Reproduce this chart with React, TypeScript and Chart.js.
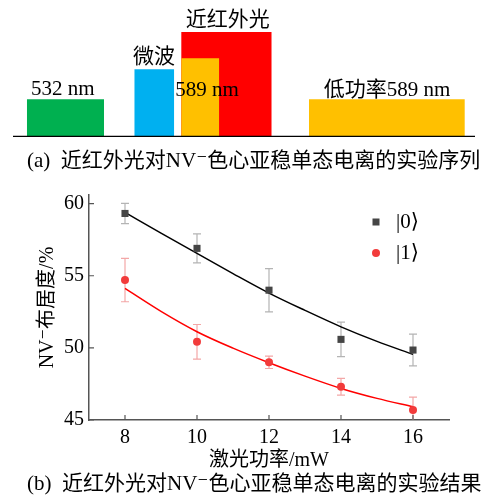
import React, { useEffect, useRef } from 'react';
import { Chart, registerables } from 'chart.js';

Chart.register(...registerables);

const FONT = '"Liberation Serif", "Noto Sans CJK SC", "DejaVu Serif", serif';

// ---------- (a) experimental sequence ----------
const pulseNames = ['532 nm', '微波', '近红外光', '589 nm', '低功率589 nm'];
const pulseStart = [3.0, 26.25, 36.4, 36.4, 64.07];
const pulseEnd = [19.7, 34.9, 56.0, 44.65, 97.8];
const pulseHeight = [0.36, 0.645, 1.0, 0.75, 0.36];
const pulseColors = ['#00b050', '#00b0f0', '#ff0000', '#ffc000', '#ffc000'];
const pulseLabelX = [10.8, 30.5, 46.5, 42.0, 80.95];
const pulseLabelY = [0.4, 0.705, 1.055, 0.39, 0.39];
const captionA = '(a)  近红外光对NV⁻色心亚稳单态电离的实验序列';

// ---------- (b) results ----------
const powerX = [8, 10, 12, 14, 16];
const state0 = [59.32, 56.9, 54.0, 50.59, 49.85];
const state0Err = [0.7, 1.0, 1.5, 1.2, 1.1];
const state1 = [54.7, 50.42, 49.0, 47.3, 45.69];
const state1Err = [1.5, 1.2, 0.43, 0.58, 0.9];
const fitX = [8, 9, 10, 11, 12, 13, 14, 15, 16];
const fit0 = [59.4, 57.95, 56.55, 55.15, 53.8, 52.6, 51.46, 50.45, 49.55];
const fit1 = [54.12, 52.53, 51.12, 49.98, 48.97, 48.04, 47.19, 46.5, 45.92];
const xTicks = [8, 10, 12, 14, 16];
const yTicks = [45, 50, 55, 60];
const legendLabels = ['|0⟩', '|1⟩'];
const xTitle = '激光功率/mW';
const yTitle = 'NV⁻布居度/%';
const captionB = '(b)  近红外光对NV⁻色心亚稳单态电离的实验结果';

const AXIS_COLOR = '#555555';

function SequenceChart() {
  const ref = useRef<HTMLCanvasElement>(null);
  useEffect(() => {
    const datasets: any[] = pulseNames.map((n, i) => ({
      label: n,
      data: [
        { x: pulseStart[i], y: 0 },
        { x: pulseStart[i], y: pulseHeight[i] },
        { x: pulseEnd[i], y: pulseHeight[i] },
        { x: pulseEnd[i], y: 0 },
      ],
      borderWidth: 0,
      borderColor: pulseColors[i],
      backgroundColor: pulseColors[i],
      fill: 'origin',
      pointRadius: 0,
      tension: 0,
      order: i === 2 ? 5 : 2,
    }));
    datasets.push({
      label: 'baseline',
      data: [{ x: 0, y: 0 }, { x: 100, y: 0 }],
      borderColor: '#000',
      borderWidth: 2.5,
      pointRadius: 0,
      fill: false,
      order: 0,
    });
    const labelPlugin = {
      id: 'pulseLabels',
      afterDraw(chart: any) {
        const { ctx, scales } = chart;
        ctx.save();
        ctx.fillStyle = '#000';
        ctx.font = `21px ${FONT}`;
        ctx.textAlign = 'center';
        ctx.textBaseline = 'alphabetic';
        pulseNames.forEach((n, i) => {
          ctx.fillText(n, scales.x.getPixelForValue(pulseLabelX[i]), scales.y.getPixelForValue(pulseLabelY[i]));
        });
        ctx.textAlign = 'left';
        ctx.fillText(captionA, 27, 167);
        ctx.restore();
      },
    };
    const chart = new Chart(ref.current as HTMLCanvasElement, {
      type: 'line',
      data: { datasets },
      options: {
        animation: false,
        responsive: false,
        layout: { padding: { left: 13, right: 12, top: 32, bottom: 38 } },
        scales: {
          x: { type: 'linear', min: 0, max: 100, display: false },
          y: { type: 'linear', min: 0, max: 1, display: false },
        },
        plugins: { legend: { display: false }, tooltip: { enabled: false } },
      } as any,
      plugins: [labelPlugin],
    });
    return () => chart.destroy();
  }, []);
  return (
    <canvas
      ref={ref}
      width={487}
      height={175}
      style={{ position: 'absolute', left: 0, top: 0, width: 487, height: 175 }}
    />
  );
}

function ResultChart() {
  const ref = useRef<HTMLCanvasElement>(null);
  useEffect(() => {
    const errorPlugin = {
      id: 'errorBars',
      beforeDatasetsDraw(chart: any) {
        const { ctx, scales, chartArea } = chart;
        ctx.save();
        ctx.beginPath();
        ctx.rect(chartArea.left, chartArea.top, chartArea.right - chartArea.left, chartArea.bottom - chartArea.top);
        ctx.clip();
        const sets = [
          { v: state0, e: state0Err, c: '#b4b4b4' },
          { v: state1, e: state1Err, c: '#f3a7a7' },
        ];
        sets.forEach((s) => {
          ctx.strokeStyle = s.c;
          ctx.lineWidth = 1.2;
          powerX.forEach((x, i) => {
            const px = scales.x.getPixelForValue(x);
            const top = scales.y.getPixelForValue(s.v[i] + s.e[i]);
            const bot = scales.y.getPixelForValue(s.v[i] - s.e[i]);
            ctx.beginPath();
            ctx.moveTo(px, top);
            ctx.lineTo(px, bot);
            ctx.moveTo(px - 4, top);
            ctx.lineTo(px + 4, top);
            ctx.moveTo(px - 4, bot);
            ctx.lineTo(px + 4, bot);
            ctx.stroke();
          });
        });
        ctx.restore();
      },
    };
    const tickPlugin = {
      id: 'innerTicks',
      afterDraw(chart: any) {
        const { ctx, scales, chartArea } = chart;
        ctx.save();
        ctx.strokeStyle = AXIS_COLOR;
        ctx.lineWidth = 1.2;
        ctx.beginPath();
        scales.x.ticks.forEach((t: any) => {
          const px = scales.x.getPixelForValue(t.value);
          ctx.moveTo(px, chartArea.bottom);
          ctx.lineTo(px, chartArea.bottom - 5);
        });
        scales.y.ticks.forEach((t: any) => {
          const py = scales.y.getPixelForValue(t.value);
          ctx.moveTo(chartArea.left, py);
          ctx.lineTo(chartArea.left + 5, py);
        });
        ctx.stroke();
        ctx.restore();
      },
    };
    const legendPlugin = {
      id: 'innerLegend',
      afterDraw(chart: any) {
        const { ctx, chartArea } = chart;
        const ds = chart.data.datasets;
        const mx = chartArea.right - 73;
        const ys = [chartArea.top + 27, chartArea.top + 58];
        ctx.save();
        ctx.font = `21px ${FONT}`;
        ctx.textBaseline = 'middle';
        ctx.textAlign = 'left';
        ctx.fillStyle = ds[2].backgroundColor;
        ctx.fillRect(mx - 3.5, ys[0] - 3.5, 7, 7);
        ctx.fillStyle = ds[3].backgroundColor;
        ctx.beginPath();
        ctx.arc(mx, ys[1], 4, 0, Math.PI * 2);
        ctx.fill();
        ctx.fillStyle = '#000';
        ctx.fillText(legendLabels[0], mx + 20, ys[0]);
        ctx.fillText(legendLabels[1], mx + 20, ys[1]);
        ctx.restore();
      },
    };
    const captionPlugin = {
      id: 'captionB',
      afterDraw(chart: any) {
        const { ctx } = chart;
        ctx.save();
        ctx.font = `21px ${FONT}`;
        ctx.fillStyle = '#000';
        ctx.textAlign = 'left';
        ctx.textBaseline = 'alphabetic';
        ctx.fillText(captionB, 27, 315);
        ctx.restore();
      },
    };
    const font = { family: FONT, size: 20 };
    const chart = new Chart(ref.current as HTMLCanvasElement, {
      type: 'line',
      data: {
        datasets: [
          {
            label: 'fit0',
            data: fitX.map((x, i) => ({ x, y: fit0[i] })),
            borderColor: '#000000',
            borderWidth: 1.5,
            pointRadius: 0,
            cubicInterpolationMode: 'monotone',
            order: 3,
          },
          {
            label: 'fit1',
            data: fitX.map((x, i) => ({ x, y: fit1[i] })),
            borderColor: '#ff0000',
            borderWidth: 1.5,
            pointRadius: 0,
            cubicInterpolationMode: 'monotone',
            order: 3,
          },
          {
            label: legendLabels[0],
            data: powerX.map((x, i) => ({ x, y: state0[i] })),
            showLine: false,
            pointStyle: 'rect',
            pointRadius: 5,
            backgroundColor: '#454545',
            borderColor: '#454545',
            borderWidth: 0,
            order: 1,
          },
          {
            label: legendLabels[1],
            data: powerX.map((x, i) => ({ x, y: state1[i] })),
            showLine: false,
            pointStyle: 'circle',
            pointRadius: 4,
            backgroundColor: '#f23b3b',
            borderColor: '#f23b3b',
            borderWidth: 0,
            order: 1,
          },
        ],
      } as any,
      options: {
        animation: false,
        responsive: false,
        layout: { padding: { left: 0, right: 38, top: 20, bottom: 0 } },
        scales: {
          x: {
            type: 'linear',
            min: 7,
            max: 17,
            afterBuildTicks: (s: any) => {
              s.ticks = xTicks.map((v) => ({ value: v }));
            },
            afterFit: (s: any) => {
              s.height = 81;
            },
            grid: { display: false, drawTicks: false },
            border: { display: true, color: AXIS_COLOR, width: 1.5 },
            ticks: { font, color: '#000', padding: 6, maxRotation: 0 },
            title: { display: true, text: xTitle, font, color: '#000', padding: { top: 0, bottom: 28 } },
          },
          y: {
            type: 'linear',
            min: 45,
            max: 60.6,
            afterBuildTicks: (s: any) => {
              s.ticks = yTicks.map((v) => ({ value: v }));
            },
            afterFit: (s: any) => {
              s.width = 89;
            },
            grid: { display: false, drawTicks: false },
            border: { display: true, color: AXIS_COLOR, width: 1.5 },
            ticks: { font, color: '#000', padding: 5 },
            title: { display: true, text: yTitle, font, color: '#000', padding: { top: 36, bottom: 0 } },
          },
        },
        plugins: { legend: { display: false }, tooltip: { enabled: false } },
      } as any,
      plugins: [errorPlugin, tickPlugin, legendPlugin, captionPlugin],
    });
    return () => chart.destroy();
  }, []);
  return (
    <canvas
      ref={ref}
      width={487}
      height={326}
      style={{ position: 'absolute', left: 0, top: 175, width: 487, height: 326 }}
    />
  );
}

export default function App() {
  return (
    <div style={{ position: 'absolute', left: 0, top: 0, width: 487, height: 501, background: '#fff' }}>
      <SequenceChart />
      <ResultChart />
    </div>
  );
}
